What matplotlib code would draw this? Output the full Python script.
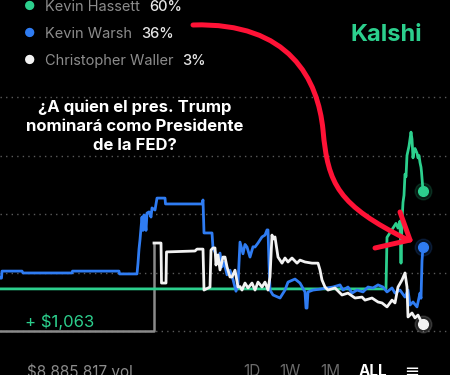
import matplotlib.pyplot as plt
from matplotlib.path import Path
from matplotlib.patches import PathPatch

# series: x = time step, y = chance in %
hassett_x = [0, 386, 387, 390, 393, 396, 398, 400, 401, 402, 403, 404, 405, 406, 407,
             409, 411, 412, 413, 414, 415, 417, 418, 419, 420, 421, 421.5, 423]
hassett_y = [18, 18, 40, 42, 44, 46, 44, 47, 29, 47, 55, 58, 67, 66, 75,
             79, 85, 82, 74, 77, 78, 76, 74, 75, 72, 70, 68, 60]

warsh_x = [0, 1.5, 2, 22, 23, 72, 72.5, 119, 119.5, 137, 138, 139, 140, 141, 142, 143, 144,
           145, 146, 147, 149, 151, 152, 155, 157, 165, 165.5, 202, 203, 204, 212, 213, 215,
           218, 220, 222, 224, 227, 230, 233, 236, 238, 240, 243, 245, 247, 250, 253, 255,
           258, 262, 265, 267, 268, 269, 270, 273, 280, 285, 288, 295, 300, 305, 306, 307,
           308, 313, 320, 327, 333, 340, 343, 348, 352, 357, 363, 368, 373, 378, 383, 387,
           392, 395, 400, 405, 408, 410, 413, 417, 420, 421, 422, 423]
warsh_y = [22.6, 22.6, 25.6, 25.6, 24.8, 24.8, 25.6, 25.6, 24.4, 24.4, 29, 35, 39, 44, 48.7, 43, 49.6,
           47.4, 43, 50.4, 50.9, 48.7, 52.6, 51.7, 56.8, 56.8, 54.3, 54.3, 56, 41.9, 41.9, 35.5, 33.8,
           30.3, 33.3, 27.4, 29.5, 24, 26, 22, 17, 20, 38, 33, 37, 35.9, 31.6, 36, 35.9,
           37.6, 40.2, 41, 43.2, 43.2, 29, 17.5, 15.4, 14.1, 17.5, 20.9, 22.2, 20.5, 16.7, 9.8, 9.8,
           16.7, 17.5, 17.9, 18.4, 18.8, 19.7, 17.5, 18.8, 16.2, 17.5, 16.7, 18.8, 18.4, 19.7, 18.8, 16.7,
           18.4, 16.2, 17.5, 14.5, 17.5, 11.1, 12.4, 10.3, 16.2, 14, 30, 36]

waller_pre_x = [0, 154, 154]
waller_pre_y = [0, 0, 37.6]
waller_x = [154, 161, 161.5, 166, 166.5, 195, 197, 203, 204, 210, 211, 213, 215, 216, 218, 220,
            223, 225, 227, 230, 232, 235, 238, 240, 242, 245, 248, 252, 255, 258, 262, 265, 268,
            270, 272, 273, 275, 278, 282, 285, 288, 292, 297, 300, 305, 312, 318, 320, 322, 325,
            328, 335, 342, 348, 355, 362, 365, 372, 378, 382, 387, 392, 395, 398, 402, 405, 407,
            408, 412, 415, 418, 422, 423]
waller_y = [37.6, 37.6, 20.5, 20.5, 33.8, 34.2, 35, 35, 17.5, 18.8, 34.6, 35.5, 35.5, 28.2, 32.5, 26.1,
            31.6, 31.6, 27.4, 23.1, 23.1, 26, 18.8, 19, 17.5, 20.5, 18.4, 20.5, 17.5, 20.9, 18.8, 20.9, 17.5,
            23.1, 41, 39.3, 40.2, 31.6, 29, 31.2, 29.5, 31.2, 29, 30.3, 29.5, 29, 29, 26.1, 21.8, 18.8,
            17.5, 18.4, 15.4, 16.2, 14.1, 14.5, 13.2, 14.1, 12.4, 12, 10.3, 13.2, 12, 18.8, 21.8, 24.8, 18.8,
            6, 7.7, 5.6, 6.8, 3.4, 3]

names = ["Kevin Hassett", "Kevin Warsh", "Christopher Waller"]
last_pct = ["60%", "36%", "3%"]
grid_levels = [0, 25, 50, 75, 100]
ranges = ["1D", "1W", "1M", "ALL"]

green = "#2ccf8d"
blue = "#2f7cf2"
white = "#f2f2f2"
grey_txt = "#8c8c8c"

plt.rcParams['font.family'] = ['Inter', 'DejaVu Sans']

fig = plt.figure(figsize=(4.5, 3.75), dpi=100, facecolor="black")
ax = fig.add_axes([0, 0.0861, 1, 0.6864])
ax.set_facecolor("black")
ax.set_xlim(0, 450)
ax.set_ylim(-5, 105)
ax.axis("off")

for g in grid_levels:
    ax.axhline(g, color="#5a5a5a", lw=1, ls=(0, (1, 3)), zorder=1)

ax.plot(waller_pre_x, waller_pre_y, color="#8a8a8a", lw=1.8, zorder=2)
ax.plot(hassett_x, hassett_y, color=green, lw=2.0, zorder=3)
ax.plot(warsh_x, warsh_y, color=blue, lw=2.0, zorder=4)
ax.plot(waller_x, waller_y, color=white, lw=2.0, zorder=5)

for xs, ys, c in [(hassett_x, hassett_y, green), (warsh_x, warsh_y, blue), (waller_x, waller_y, white)]:
    ax.plot(xs[-1], ys[-1], "o", color=c, ms=12, alpha=0.15, zorder=6)
    ax.plot(xs[-1], ys[-1], "o", color=c, ms=7, zorder=7)

ax.text(25, 4, "+ $1,063", color=green, fontsize=12, va="center", ha="left")

# legend
for i, (n, p, c) in enumerate(zip(names, last_pct, [green, blue, white])):
    yy = 1 - (7 + 27 * i) / 375
    fig.text(30 / 450, yy, "\u25cf", color=c, fontsize=9, ha="center", va="center")
    t = fig.text(45 / 450, yy, n, color=grey_txt, fontsize=10.5, ha="left", va="center")
    fig.canvas.draw()
    bb = t.get_window_extent()
    fig.text((bb.x1 + 9) / 450, yy, p, color="#e6e6e6", fontsize=10.5, ha="left",
             va="center", fontweight="medium")

fig.text(386 / 450, 1 - 35 / 375, "Kalshi", color=green, fontsize=17, fontweight="bold",
         ha="center", va="center")

fig.text(135 / 450, 1 - 126 / 375, "\u00bfA quien el pres. Trump\nnominar\u00e1 como Presidente\nde la FED?",
         color="white", fontsize=12, fontweight="bold", ha="center", va="center",
         linespacing=1.35)

# bottom bar (cut off by the bottom edge, as in the screenshot)
fig.text(27 / 450, 1 - 364 / 375, "$8,885,817 vol", color=grey_txt, fontsize=11, ha="left", va="top")
for lab, xp in zip(ranges, [252, 290, 330, 373]):
    fig.text(xp / 450, 1 - 364 / 375, lab, color="white" if lab == "ALL" else "#6a6a6a",
             fontsize=11, ha="center", va="top", fontweight="bold" if lab == "ALL" else "normal")
fig.text(412 / 450, 1 - 364 / 375, "\u2261", color="white", fontsize=13, ha="center", va="top")

# red hand-drawn arrow (figure pixel coords, y from top)
def px(x, y):
    return (x / 450, 1 - y / 375)

verts = [px(193, 25), px(290, 22), px(318, 80), px(323, 130),
         px(328, 185), px(338, 205), px(408, 240)]
codes = [Path.MOVETO, Path.CURVE4, Path.CURVE4, Path.CURVE4, Path.CURVE4, Path.CURVE4, Path.CURVE4]
fig.patches.append(PathPatch(Path(verts, codes), transform=fig.transFigure, fill=False,
                             edgecolor="#ff1236", lw=3.6, capstyle="round", zorder=10))
for a in [px(400, 212), px(375, 248)]:
    fig.lines.append(plt.Line2D([a[0], px(410, 240)[0]], [a[1], px(410, 240)[1]],
                                transform=fig.transFigure, color="#ff1236", lw=3.6,
                                solid_capstyle="round", zorder=10))

fig.savefig("out.png", dpi=100, facecolor="black")
